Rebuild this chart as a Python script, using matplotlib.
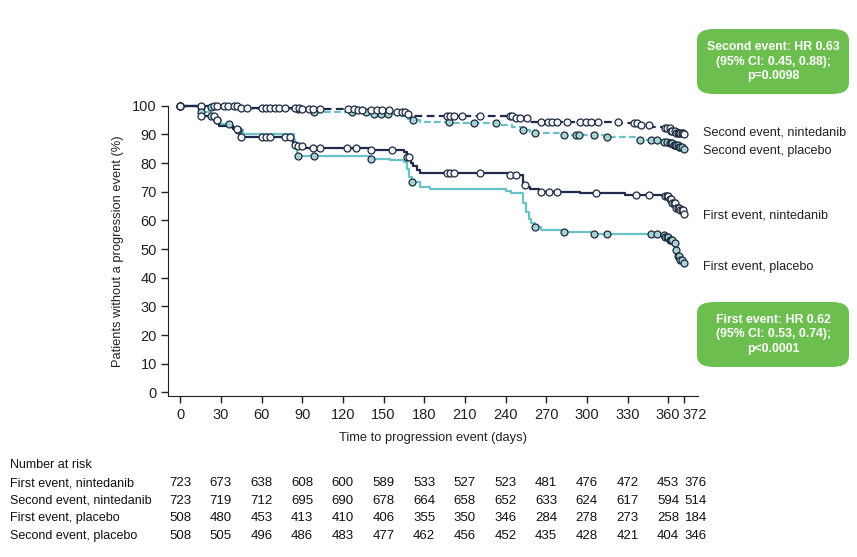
import numpy as np
import matplotlib.pyplot as plt
from matplotlib.patches import FancyBboxPatch
from matplotlib.transforms import blended_transform_factory, ScaledTranslation

plt.rcParams['font.family'] = ['Liberation Sans', 'DejaVu Sans']

# Kaplan-Meier steps (day, % without event)
fe_nin_t = [0, 15, 26, 29, 39, 44, 83, 87, 91, 140, 165, 167, 170, 172, 175, 177,
            243, 253, 256, 258, 265, 295, 328, 358, 361, 363, 366, 369, 372]
fe_nin_s = [100, 96.4, 95, 93, 92, 89, 86.5, 86, 85.3, 84.5, 84, 82, 80, 79, 77.5, 76.5,
            75.8, 72.5, 71.5, 71, 70, 69.5, 69, 68.6, 67.5, 66, 64.5, 63.5, 62.3]
fe_pla_t = [0, 15, 22, 26, 29, 37, 42, 46, 84, 85, 86, 140, 155, 165, 167, 169, 171, 177,
            184, 240, 244, 253, 255, 257, 259, 262, 266, 283, 305, 355, 358, 361, 364,
            366, 367, 369, 372]
fe_pla_s = [100, 97.9, 96.5, 95, 93.5, 92.5, 91.5, 90.3, 88, 86, 82.6, 81.6, 81, 80.5, 78,
            75, 73.5, 71.5, 70.8, 70.3, 69.6, 66, 63, 60.5, 59, 57.8, 56.8, 56, 55.3, 55,
            54.3, 53.3, 52, 49.5, 47.5, 46.3, 45]
se_nin_t = [0, 45, 90, 130, 160, 167, 172, 246, 258, 324, 340, 348, 358, 362, 366, 372]
se_nin_s = [100, 99.4, 98.8, 98.4, 97.7, 97, 96.5, 95.6, 94.4, 93.9, 93.3, 92.7, 92.3,
            91.3, 90.5, 90]
se_pla_t = [0, 15, 50, 90, 98, 140, 160, 168, 172, 177, 200, 234, 245, 252, 258, 262, 280,
            313, 337, 355, 360, 364, 368, 372]
se_pla_s = [100, 99.5, 99, 98.5, 97.8, 97, 96.5, 95.5, 95, 94.2, 93.9, 93.3, 92.5, 91.5,
            90.8, 90.4, 89.8, 89.2, 88.1, 87.5, 87, 86.3, 85.7, 85.1]

# censoring times
fe_nin_c = [0, 15, 25, 27, 42, 45, 60, 63, 66, 77, 81, 85, 87, 90, 98, 103, 123, 130, 141,
            156, 167, 169, 197, 199, 202, 221, 243, 248, 254, 266, 272, 278, 307, 336, 346,
            358, 359, 360, 361, 362, 363, 364, 365, 366, 367, 368, 369, 370, 371, 372]
fe_pla_c = [0, 15, 23, 27, 36, 43, 87, 99, 141, 171, 262, 283, 305, 315, 347, 352, 357,
            358, 359, 360, 361, 362, 363, 365, 366, 367, 368, 369, 370, 372]
se_nin_c = [0, 15, 25, 27, 32, 35, 40, 42, 45, 49, 60, 63, 66, 70, 73, 77, 85, 88, 90, 95,
            98, 103, 124, 128, 131, 134, 141, 145, 149, 154, 160, 164, 166, 168, 197, 199,
            202, 208, 221, 243, 245, 248, 251, 256, 266, 271, 274, 278, 285, 295, 299, 303,
            308, 323, 335, 337, 340, 346, 358, 359, 361, 362, 363, 365, 366, 367, 368, 369,
            370, 371, 372]
se_pla_c = [0, 15, 23, 87, 99, 127, 137, 143, 148, 153, 172, 198, 217, 233, 253, 262, 283,
            292, 294, 305, 315, 339, 347, 352, 357, 359, 361, 362, 363, 364, 365, 366, 367,
            368, 369, 370, 372]

# number at risk
risk_days = [0, 30, 60, 90, 120, 150, 180, 210, 240, 270, 300, 330, 360, 372]
risk_labels = ["First event, nintedanib", "Second event, nintedanib",
               "First event, placebo", "Second event, placebo"]
risk_fe_nin = [723, 673, 638, 608, 600, 589, 533, 527, 523, 481, 476, 472, 453, 376]
risk_se_nin = [723, 719, 712, 695, 690, 678, 664, 658, 652, 633, 624, 617, 594, 514]
risk_fe_pla = [508, 480, 453, 413, 410, 406, 355, 350, 346, 284, 278, 273, 258, 184]
risk_se_pla = [508, 505, 496, 486, 483, 477, 462, 456, 452, 435, 428, 421, 404, 346]

NAVY = "#1f2b4d"
TEAL = "#68c3c6"
GREEN = "#6cbf4e"
EDGE = "#1e2a3e"


def step_value(t, s, x):
    t = np.asarray(t)
    s = np.asarray(s)
    idx = np.searchsorted(t, x, side="right") - 1
    return s[np.clip(idx, 0, len(s) - 1)]


fig = plt.figure(figsize=(8.57, 5.57), dpi=100)
ax = fig.add_axes([0.196, 0.289, 0.6185, 0.521])

curves = [
    (se_pla_t, se_pla_s, se_pla_c, TEAL, (0, (3, 1.5)), "#a7d3d3"),
    (se_nin_t, se_nin_s, se_nin_c, NAVY, (0, (3.5, 2)), "#f2f4f6"),
    (fe_pla_t, fe_pla_s, fe_pla_c, TEAL, "-", "#a7d3d3"),
    (fe_nin_t, fe_nin_s, fe_nin_c, NAVY, "-", "#f2f4f6"),
]
for t, s, c, col, ls, fc in curves:
    ax.plot(t, s, drawstyle="steps-post", color=col, lw=1.6, ls=ls, clip_on=False, zorder=2)
    ax.plot(c, step_value(t, s, c), ls="none", marker="o", ms=5, mfc=fc, mec=EDGE,
            mew=0.9, clip_on=False, zorder=3)

ax.set_xlim(-9, 382)
ax.set_ylim(-1.3, 100)
ax.set_xticks(risk_days)
ax.set_yticks(range(0, 101, 10))
ax.tick_params(labelsize=10.5, colors="#222222", length=5, width=1)
ax.tick_params(axis="y", pad=3)
# nudge the last x label right so "360" and "372" don't collide
last = ax.get_xticklabels()[-1]
last.set_transform(last.get_transform() + ScaledTranslation(10 / 100, 0, fig.dpi_scale_trans))
for sp in ["top", "right"]:
    ax.spines[sp].set_visible(False)
for sp in ["left", "bottom"]:
    ax.spines[sp].set_color("#222222")
ax.set_xlabel("Time to progression event (days)", fontsize=9.3, color="#222222", labelpad=7)
ax.set_ylabel("Patients without a progression event (%)", fontsize=9.3, color="#222222",
              labelpad=6)

# curve labels at right (pixel rows from the top)
for txt, py in [("Second event, nintedanib", 133), ("Second event, placebo", 151),
                ("First event, nintedanib", 215), ("First event, placebo", 267)]:
    fig.text(703 / 857, 1 - py / 557, txt, fontsize=9.1, color="#222222",
             va="center", ha="left")

# HR boxes
for (y0, txt) in [(29, "Second event: HR 0.63\n(95% CI: 0.45, 0.88);\np=0.0098"),
                  (302, "First event: HR 0.62\n(95% CI: 0.53, 0.74);\np<0.0001")]:
    box = FancyBboxPatch((697 / 857, 1 - (y0 + 65) / 557), 152 / 857, 65 / 557,
                         boxstyle="round,pad=0,rounding_size=0.02", transform=fig.transFigure,
                         fc=GREEN, ec="none")
    fig.patches.append(box)
    fig.text(773 / 857, 1 - (y0 + 32.5) / 557, txt, fontsize=8.8, color="white",
             fontweight="bold", ha="center", va="center", linespacing=1.25)

# number at risk table
tr = blended_transform_factory(ax.transData, fig.transFigure)
fig.text(10 / 857, 1 - 465 / 557, "Number at risk", fontsize=9, color="#111111", va="center")
rows = [risk_fe_nin, risk_se_nin, risk_fe_pla, risk_se_pla]
for i, (lab, vals) in enumerate(zip(risk_labels, rows)):
    yf = 1 - (483 + i * 17.7) / 557
    fig.text(10 / 857, yf, lab, fontsize=9, color="#111111", va="center")
    for d, v in zip(risk_days, vals):
        dx = 8 if d == 372 else 0
        ax.annotate(str(v), xy=(d, yf), xycoords=tr, xytext=(dx, 0), textcoords="offset points",
                    fontsize=9.5, color="#111111", ha="center", va="center",
                    annotation_clip=False)

fig.savefig("out.png", dpi=100)
